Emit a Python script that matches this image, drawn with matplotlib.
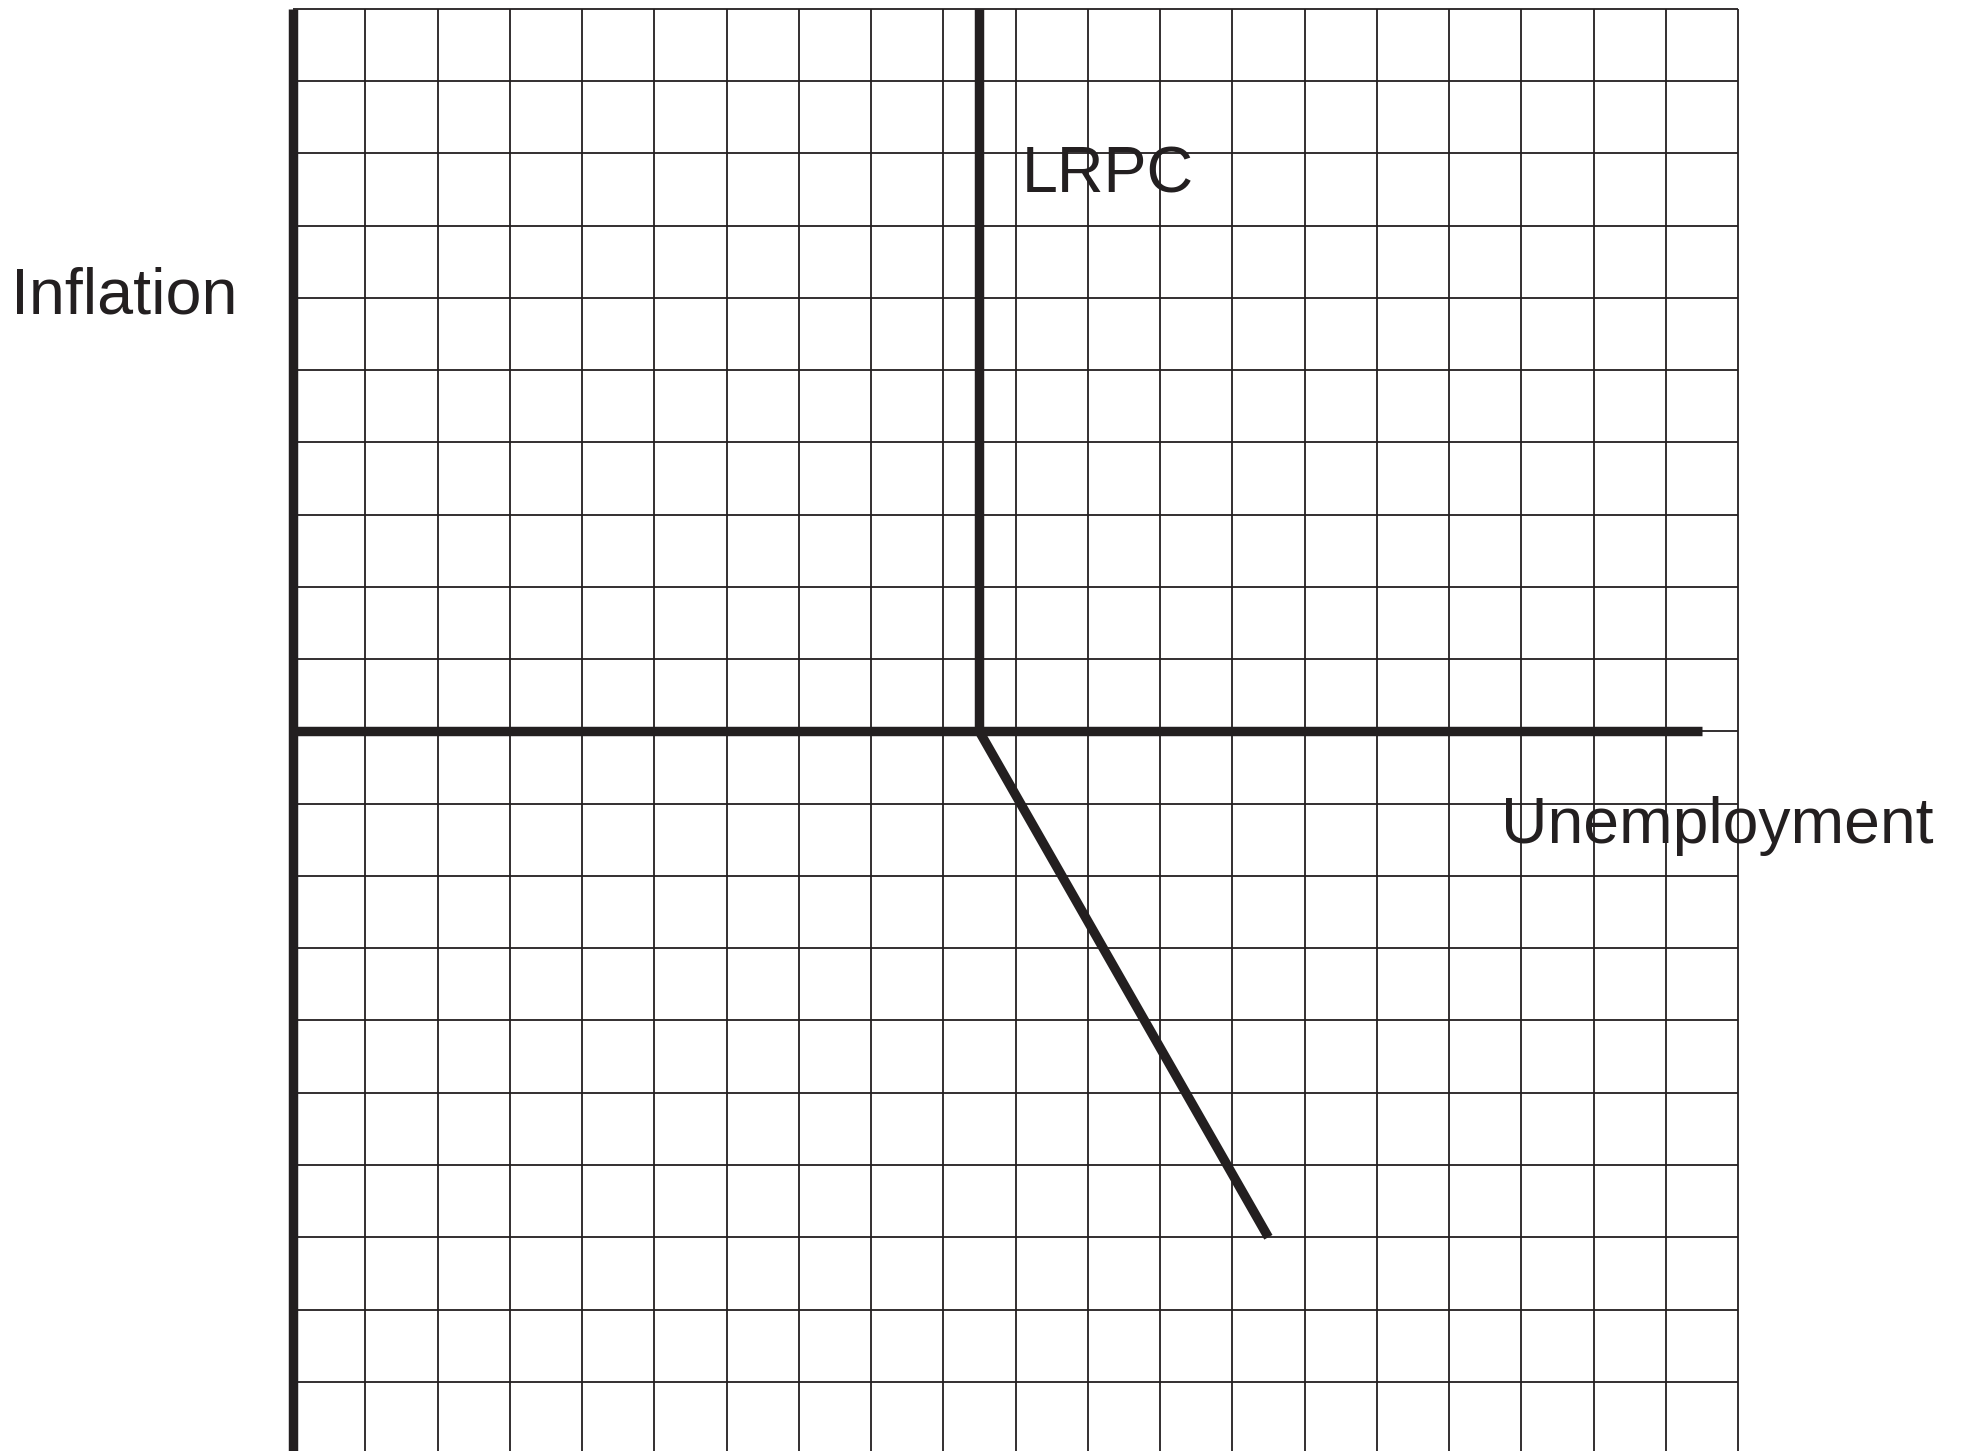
import numpy as np
import matplotlib
matplotlib.use("Agg")
import matplotlib.pyplot as plt

# grid extent in cells
grid_x = np.arange(0, 21)
grid_y = np.arange(-10, 11)

# curves
lrpc_x = [9.5, 9.5]
lrpc_y = [0, 10]
srpc_x = [9.5, 13.5]
srpc_y = [0, -7]
x_axis_end = 19.5

ink = "#231f20"
plt.rcParams["font.family"] = ["Liberation Sans", "DejaVu Sans"]

fig = plt.figure(figsize=(19.62, 14.51), dpi=100)
ax = fig.add_axes([0, 0, 1, 1])
# one cell = 72.25 px, origin at (293, 731.5) px
cell = 72.25
ax.set_xlim((0 - 293) / cell, (1962 - 293) / cell)
ax.set_ylim((731.5 - 1451) / cell, 731.5 / cell)
ax.axis("off")

# graph paper
ax.vlines(grid_x[1:], grid_y[0], grid_y[-1], color=ink, lw=1.3, zorder=1)
ax.hlines(grid_y, grid_x[0], grid_x[-1], color=ink, lw=1.3, zorder=1)

# axes
ax.plot([0, 0], [grid_y[0], grid_y[-1]], color=ink, lw=6.8, solid_capstyle="butt", zorder=3)
ax.plot([0, x_axis_end], [0, 0], color=ink, lw=6.8, solid_capstyle="butt", zorder=3)

# curves
ax.plot(lrpc_x, lrpc_y, color=ink, lw=6.8, solid_capstyle="butt", zorder=3)
ax.plot(srpc_x, srpc_y, color=ink, lw=6.8, solid_capstyle="butt", zorder=3)

ax.text(-3.90, 5.79, "Inflation", fontsize=46.5, color=ink, ha="left", va="baseline")
ax.text(10.09, 7.467, "LRPC", fontsize=46.5, color=ink, ha="left", va="baseline")
ax.text(16.72, -1.543, "Unemployment", fontsize=46.3, color=ink, ha="left", va="baseline")

fig.savefig("out.png", dpi=100)
